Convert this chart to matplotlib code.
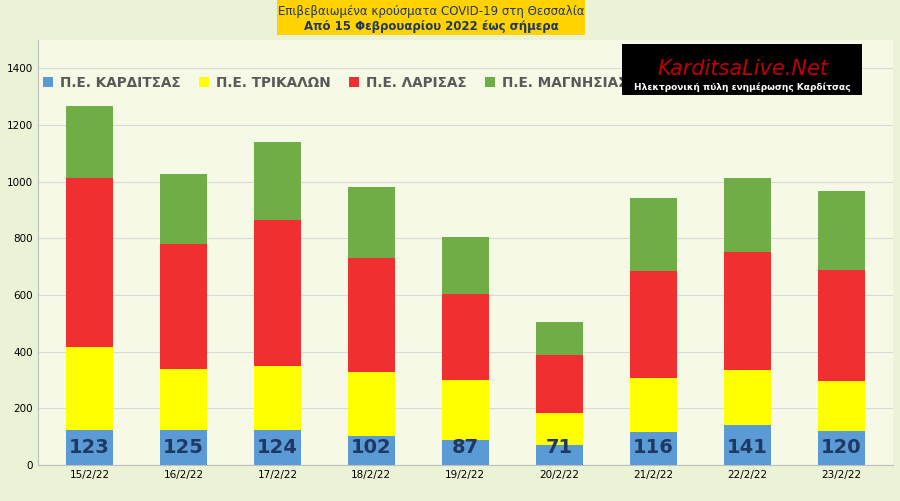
import matplotlib.pyplot as plt
import matplotlib.patches as mpatches
import numpy as np

dates = ["15/2/22", "16/2/22", "17/2/22", "18/2/22", "19/2/22", "20/2/22", "21/2/22", "22/2/22", "23/2/22"]
karditsa = [123, 125, 124, 102, 87, 71, 116, 141, 120]
trikala = [293, 214, 225, 226, 213, 112, 191, 194, 176]
larisa = [596, 440, 515, 402, 303, 205, 377, 416, 392]
magnisia = [254, 247, 275, 250, 201, 116, 257, 261, 278]

series = [
    ("Π.Ε. ΚΑΡΔΙΤΣΑΣ", karditsa, "#5B9BD5"),
    ("Π.Ε. ΤΡΙΚΑΛΩΝ", trikala, "#FFFF00"),
    ("Π.Ε. ΛΑΡΙΣΑΣ", larisa, "#F03030"),
    ("Π.Ε. ΜΑΓΝΗΣΙΑΣ", magnisia, "#70AD47"),
]

fig = plt.figure(figsize=(9, 5.01), dpi=100, facecolor="#EAF3D6")
ax = fig.add_axes([0.042, 0.072, 0.95, 0.848])
ax.set_facecolor("#F5F9E6")

x = np.arange(len(dates))
bottom = np.zeros(len(dates))
for name, vals, col in series:
    ax.bar(x, vals, 0.5, bottom=bottom, color=col, label=name)
    bottom += np.array(vals)

for xi, v in zip(x, karditsa):
    ax.text(xi, 60, str(v), ha="center", va="center", fontsize=14,
            fontweight="bold", color="#1F3864")

ax.set_xlim(-0.55, len(dates) - 0.45)
ax.set_ylim(0, 1500)
ax.set_yticks(range(0, 1401, 200))
ax.set_xticks(x)
ax.set_xticklabels(dates)
ax.tick_params(labelsize=7.5, length=0)
ax.yaxis.grid(True, color="#D9D9D9", linewidth=0.8)
ax.set_axisbelow(True)
for s in ["top", "right"]:
    ax.spines[s].set_visible(False)
ax.spines["left"].set_color("#BFBFBF")
ax.spines["bottom"].set_color("#BFBFBF")

ax.legend(loc="upper left", bbox_to_anchor=(-0.008, 0.945), ncol=4, frameon=False,
          handlelength=0.7, handleheight=0.7, columnspacing=1.4, handletextpad=0.5,
          prop={"weight": "bold", "size": 9.8})
for t in ax.get_legend().get_texts():
    t.set_color("#595959")

# title box
fig.patches.append(mpatches.Rectangle((0.308, 0.93), 0.342, 0.07, transform=fig.transFigure,
                                      facecolor="#FFD200", edgecolor="none"))
fig.text(0.479, 0.977, "Επιβεβαιωμένα κρούσματα COVID-19 στη Θεσσαλία", ha="center",
         va="center", fontsize=8.5, color="#1F3864")
fig.text(0.479, 0.948, "Από 15 Φεβρουαρίου 2022 έως σήμερα", ha="center",
         va="center", fontsize=8.5, color="#1F3864", fontweight="bold")

# logo box
fig.patches.append(mpatches.Rectangle((0.691, 0.81), 0.267, 0.102, transform=fig.transFigure,
                                      facecolor="black", edgecolor="none", zorder=5))
fig.text(0.825, 0.862, "KarditsaLive.Net", ha="center", va="center", fontsize=15,
         color="#C00000", style="italic", zorder=6)
fig.text(0.825, 0.826, "Ηλεκτρονική πύλη ενημέρωσης Καρδίτσας", ha="center", va="center",
         fontsize=6.5, color="white", fontweight="bold", zorder=6)

fig.savefig("out.png", dpi=100, facecolor=fig.get_facecolor())
